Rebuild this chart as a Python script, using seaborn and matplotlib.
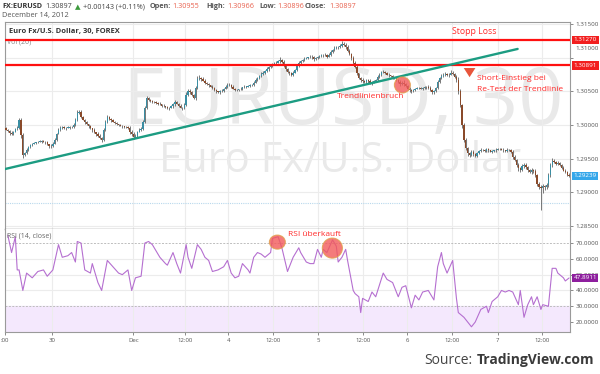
import matplotlib
matplotlib.use("Agg")
import matplotlib.pyplot as plt
import matplotlib.transforms as mtrans
from matplotlib.patches import Ellipse
import numpy as np
import pandas as pd
import seaborn as sns

# ---------------- data ----------------
close = [
 1.2993, 1.2991, 1.2988, 1.2987, 1.2990, 1.2994, 1.2996, 1.3008, 1.2985, 1.2955,
 1.2958, 1.2963, 1.2967, 1.2970, 1.2972, 1.2973, 1.2974, 1.2975, 1.2975, 1.2976,
 1.2975, 1.2974, 1.2971, 1.2968, 1.2969, 1.2972, 1.2978, 1.2987, 1.2993, 1.2996,
 1.2997, 1.2995, 1.2996, 1.2996, 1.2997, 1.2997, 1.3000, 1.3008, 1.3018, 1.3020,
 1.3012, 1.3008, 1.3004, 1.3001, 1.2998, 1.2995, 1.2992, 1.2989, 1.2987, 1.2984,
 1.2981, 1.2978, 1.2992, 1.3005, 1.3012, 1.3009, 1.3007, 1.3005, 1.3003, 1.3001,
 1.3000, 1.2999, 1.2998, 1.2997, 1.2997, 1.2996, 1.2990, 1.2986, 1.2982, 1.2984,
 1.2990, 1.2993, 1.2994, 1.3005, 1.3025, 1.3040, 1.3038, 1.3036, 1.3035, 1.3034,
 1.3033, 1.3032, 1.3031, 1.3029, 1.3028, 1.3027, 1.3025, 1.3026, 1.3028, 1.3031,
 1.3034, 1.3032, 1.3029, 1.3026, 1.3025, 1.3030, 1.3045, 1.3051, 1.3049, 1.3045,
 1.3040, 1.3055, 1.3068, 1.3070, 1.3068, 1.3066, 1.3063, 1.3061, 1.3059, 1.3057,
 1.3055, 1.3052, 1.3050, 1.3049, 1.3050, 1.3051, 1.3054, 1.3057, 1.3059, 1.3060,
 1.3057, 1.3054, 1.3052, 1.3052, 1.3053, 1.3054, 1.3056, 1.3057, 1.3057, 1.3058,
 1.3059, 1.3060, 1.3063, 1.3067, 1.3070, 1.3073, 1.3076, 1.3078, 1.3080, 1.3083,
 1.3086, 1.3088, 1.3090, 1.3092, 1.3093, 1.3095, 1.3097, 1.3094, 1.3088, 1.3083,
 1.3079, 1.3077, 1.3075, 1.3078, 1.3082, 1.3088, 1.3092, 1.3095, 1.3097, 1.3099,
 1.3100, 1.3101, 1.3102, 1.3101, 1.3099, 1.3100, 1.3102, 1.3103, 1.3104, 1.3105,
 1.3104, 1.3102, 1.3105, 1.3109, 1.3112, 1.3115, 1.3116, 1.3116, 1.3118, 1.3121,
 1.3120, 1.3116, 1.3111, 1.3106, 1.3100, 1.3093, 1.3087, 1.3077, 1.3070, 1.3067,
 1.3065, 1.3064, 1.3067, 1.3065, 1.3063, 1.3064, 1.3066, 1.3067, 1.3071, 1.3075,
 1.3079, 1.3079, 1.3078, 1.3075, 1.3074, 1.3073, 1.3071, 1.3069, 1.3067, 1.3064,
 1.3061, 1.3063, 1.3061, 1.3058, 1.3054, 1.3052, 1.3050, 1.3052, 1.3054, 1.3055,
 1.3055, 1.3054, 1.3055, 1.3056, 1.3057, 1.3055, 1.3052, 1.3049, 1.3050, 1.3055,
 1.3064, 1.3070, 1.3073, 1.3075, 1.3076, 1.3074, 1.3075, 1.3078, 1.3076, 1.3072,
 1.3067, 1.3050, 1.3030, 1.3000, 1.2978, 1.2966, 1.2958, 1.2955, 1.2960, 1.2957,
 1.2954, 1.2958, 1.2961, 1.2963, 1.2962, 1.2961, 1.2964, 1.2962, 1.2960, 1.2961,
 1.2962, 1.2963, 1.2964, 1.2964, 1.2963, 1.2962, 1.2961, 1.2963, 1.2962, 1.2960,
 1.2952, 1.2948, 1.2940, 1.2936, 1.2933, 1.2939, 1.2941, 1.2937, 1.2933, 1.2930,
 1.2933, 1.2931, 1.2925, 1.2912, 1.2908, 1.2906, 1.2909, 1.2907, 1.2910, 1.2925,
 1.2940, 1.2947, 1.2945, 1.2942, 1.2943, 1.2940, 1.2936, 1.2932, 1.2930, 1.2926,
 1.2924,
]
first_open = 1.2995
wick_up_pips = [
 2,1,2,3,1,2,2,3,2,3,1,2,1,2,1,2,1,1,2,1,
 2,1,2,1,3,2,2,1,2,3,1,2,1,2,1,2,3,2,4,2,
 3,2,1,2,1,2,1,3,1,2,2,1,3,2,3,2,1,2,1,2,
 1,2,1,1,2,1,2,2,3,2,1,2,3,2,4,3,2,1,2,1,
 2,1,2,1,2,1,2,1,2,2,3,2,1,2,1,3,4,3,2,1,
 2,3,5,4,2,3,2,1,2,1,2,1,2,1,2,2,1,2,3,2,
 1,2,1,2,1,2,1,2,1,2,2,1,2,3,2,2,3,2,2,3,
 2,3,2,2,3,2,4,2,3,2,2,1,2,3,2,2,3,2,2,3,
 2,1,2,3,2,2,1,2,2,1,3,2,2,3,2,3,2,2,3,5,
 3,2,3,2,2,3,2,2,1,2,3,2,1,2,3,2,1,2,3,3,
 2,3,2,1,2,1,2,1,2,1,3,2,4,2,1,2,1,2,1,2,
 1,2,1,2,1,2,3,1,2,2,3,2,3,2,3,2,3,4,3,2,
 3,4,3,2,3,2,1,2,3,2,1,2,1,2,1,2,1,2,1,2,
 1,2,1,2,1,2,1,2,1,2,2,3,2,3,2,3,2,3,2,2,
 3,2,3,2,3,2,3,2,3,4,3,4,3,2,3,2,2,3,2,2,
 2,
]
wick_dn_pips = [
 1,2,3,2,2,1,2,2,5,4,2,1,2,1,2,1,2,1,1,2,
 1,2,1,2,3,2,1,2,1,2,2,1,2,1,2,1,2,1,2,1,
 2,1,2,1,2,1,2,1,3,2,2,3,2,1,2,1,2,1,2,1,
 2,1,2,1,1,2,3,2,3,2,2,1,2,1,2,1,2,1,2,1,
 1,2,1,2,1,2,1,2,1,2,2,1,2,1,2,1,2,1,2,2,
 1,2,2,1,2,1,2,1,2,1,2,1,2,1,2,1,2,1,2,1,
 2,1,2,1,2,1,2,1,2,1,2,1,2,1,2,1,2,1,2,1,
 2,1,2,1,2,1,2,1,2,3,2,3,2,2,1,2,1,2,1,2,
 1,2,1,2,3,2,1,2,1,2,1,2,1,2,1,2,1,2,1,2,
 2,3,2,2,3,4,2,3,2,3,2,2,3,2,2,3,2,1,2,1,
 2,1,2,1,2,1,2,1,2,2,3,2,3,2,2,3,2,1,2,1,
 2,1,2,1,2,1,2,3,2,1,2,1,2,1,2,1,2,1,2,2,
 3,4,3,4,3,3,4,3,2,3,2,2,1,2,1,2,1,2,1,2,
 1,2,1,2,1,2,1,2,1,2,3,2,3,4,3,2,3,2,3,2,
 3,2,3,3,4,33,8,4,3,2,3,2,2,1,2,1,2,1,2,2,
 2,
]

rsi_bar = [
 1, 3, 5, 6, 7, 9, 11, 14, 17, 20, 22, 25, 28, 30, 33, 35, 37, 38, 40, 42,
 45, 46, 49, 51, 54, 57, 60, 62, 65, 67, 69, 72, 74, 76, 78, 82, 85, 86, 89, 91,
 93, 96, 97, 99, 102, 104, 106, 108, 110, 113, 116, 118, 120, 122, 124, 126, 129, 130, 132, 134,
 136, 138, 141, 142, 145, 147, 150, 153, 156, 157, 160, 162, 164, 166, 168, 169, 171, 174, 176, 177,
 179, 181, 182, 185, 186, 188, 189, 190, 193, 195, 197, 201, 203, 206, 209, 211, 213, 216, 218, 220,
 222, 225, 228, 230, 232, 233, 235, 238, 240, 241, 244, 248, 250, 253, 256, 257, 259, 262, 264, 266,
 268, 270, 273, 274, 276, 278, 280, 281, 283, 285, 286, 289, 291, 293, 294, 297, 298, 300,
]
rsi_val = [
 75, 64, 74, 53, 53, 40, 51, 48, 52, 53, 49, 53, 69, 61, 62, 64, 58, 71, 70, 53,
 51, 57, 45, 40, 59, 55, 51, 50, 53, 40, 48, 49, 70, 71, 69, 61, 57, 56, 64, 57,
 51, 69, 61, 54, 69, 66, 61, 59, 52, 53, 55, 59, 51, 48, 49, 57, 53, 51, 61, 64,
 63, 61, 64, 73, 74, 67, 52, 61, 67, 64, 58, 57, 57, 66, 61, 66, 64, 72, 68, 58,
 61, 66, 59, 40, 38, 36, 26, 35, 33, 39, 36, 51, 47, 45, 36, 42, 43, 29, 37, 34,
 39, 40, 34, 55, 64, 57, 51, 59, 35, 26, 23, 17, 20, 28, 30, 26, 33, 36, 40, 39,
 40, 39, 31, 40, 23, 31, 36, 31, 36, 28, 31, 30, 54, 54, 51, 48, 46, 47.9,
]

time_tick_pos = [-0.4, 24.6, 67.8, 95.5, 118.4, 142.4, 166.4, 190.4, 213.9, 237.9, 261.9, 285.4]
time_tick_lab = [":00", "30", "Dec", "12:00", "4", "12:00", "5", "12:00", "6", "12:00", "7", "12:00"]
price_ticks = [1.285, 1.290, 1.295, 1.300, 1.305, 1.310, 1.315]
rsi_ticks = [20, 30, 40, 50, 60, 70]

stop_loss = 1.31270
entry_level = 1.30891
last_close = 1.29239
last_rsi = 47.8911
prev_close_level = 1.28836
trend_x = [-0.5, 272.6]
trend_y = [1.29343, 1.31135]

# ---------------- frame ----------------
W, H = 600, 374
sns.set_theme(style="white")
plt.rcParams['font.family'] = ['Open Sans', 'DejaVu Sans']

fig = plt.figure(figsize=(W / 100, H / 100), dpi=100)
fig.patch.set_facecolor("white")

def fx(x):
    return x / W

def fy(y):
    return 1 - y / H

ax = fig.add_axes([fx(5), fy(229), fx(565), (229 - 22) / H])
ax2 = fig.add_axes([fx(5), fy(332), fx(565), (332 - 229) / H], sharex=ax)

n = len(close)
opens = [first_open] + close[:-1]
df = pd.DataFrame({"i": np.arange(n), "open": opens, "close": close})
df["high"] = df[["open", "close"]].max(axis=1) + np.array(wick_up_pips) * 1e-4
df["low"] = df[["open", "close"]].min(axis=1) - np.array(wick_dn_pips) * 1e-4
df["up"] = df["close"] >= df["open"]

UP_C, DN_C = "#3a8ea3", "#8a4a2a"
GRID = "#ececec"
SPINE = "#9a9a9a"

# watermark
ax.text(0.598, 0.605, "EURUSD, 30", transform=ax.transAxes, ha="center", va="center",
        fontsize=57, color="#e9e9e9", zorder=0)
ax.text(0.593, 0.33, "Euro Fx/U.S. Dollar", transform=ax.transAxes, ha="center", va="center",
        fontsize=30, color="#e9e9e9", zorder=0)

# grids
for p in price_ticks:
    ax.axhline(p, color=GRID, lw=0.8, zorder=0.5)
for t in time_tick_pos:
    ax.axvline(t, color=GRID, lw=0.8, zorder=0.5)
    ax2.axvline(t, color=GRID, lw=0.8, zorder=0.5)

# candles
cols = np.where(df["up"], UP_C, DN_C)
ax.vlines(df["i"], df["low"], df["high"], color="#555555", lw=0.55, zorder=2)
body_h = (df["close"] - df["open"]).abs().clip(lower=0.00006)
ax.bar(df["i"], body_h, bottom=df[["open", "close"]].min(axis=1), width=0.7,
       color=cols, edgecolor="none", zorder=3)

# levels
ax.axhline(stop_loss, color="#ff1010", lw=1.6, zorder=4)
ax.axhline(entry_level, color="#ff1010", lw=1.6, zorder=4)
ax.axhline(prev_close_level, color="#b8d8ec", lw=0.8, ls=(0, (1, 1)), zorder=1)

# trendline
sns.lineplot(x=trend_x, y=trend_y, ax=ax, color="#1c9c82", lw=1.7, zorder=5)

ax.set_xlim(-0.5, n - 0.5)
ax.set_ylim(1.28448, 1.31537)

# price axis
ax.yaxis.tick_right()
ax.set_yticks(price_ticks)
ax.set_yticklabels([f"{p:.5f}" for p in price_ticks])
ax.tick_params(axis="y", labelsize=4.5, labelcolor="#555555", length=2.5, width=0.6,
               color="#777777", pad=1.5, right=True)
ax.tick_params(axis="x", bottom=False, labelbottom=False)
for lab, p in zip(ax.get_yticklabels(), price_ticks):
    if abs(p - 1.31) < 1e-9:
        lab.set_transform(lab.get_transform() + mtrans.ScaledTranslation(0, 10 / 100, fig.dpi_scale_trans))
for s in ["left", "top", "right"]:
    ax.spines[s].set_color(SPINE)
    ax.spines[s].set_linewidth(0.8)
ax.spines["bottom"].set_color("#8a8a8a")
ax.spines["bottom"].set_linewidth(1.0)

# value boxes on price axis
tr = mtrans.blended_transform_factory(ax.transAxes, ax.transData)
for val, fc in [(stop_loss, "#f21f1f"), (entry_level, "#f21f1f"), (last_close, "#35a7ea")]:
    ax.text(1.006, val, f"{val:.5f}", transform=tr, ha="left", va="center", fontsize=4.5,
            color="white", bbox=dict(boxstyle="square,pad=0.3", fc=fc, ec="none"), zorder=10,
            clip_on=False)

# annotations price pane
ax.text(249.6, 1.31388, "Stopp Loss", ha="center", va="center", fontsize=6.3, color="#ff2a2a", zorder=6)
ax.text(250.7, 1.30701, "Short-Einstieg bei", ha="left", va="center",
        fontsize=6.0, color="#ff2a2a", zorder=6)
ax.text(250.7, 1.30530, "Re-Test der Trendlinie", ha="left", va="center",
        fontsize=6.0, color="#ff2a2a", zorder=6)
ax.annotate("", xy=(247, 1.30672), xytext=(247, 1.30870),
            arrowprops=dict(arrowstyle="simple,head_width=0.7,head_length=0.55,tail_width=0.35",
                            color="#e8553b", lw=0), zorder=6)
ax.text(194.2, 1.30418, "Trendlinienbruch", ha="center", va="center", fontsize=6.0,
        color="#ff2a2a", zorder=6)
ax.add_patch(Ellipse((211.2, 1.30597), 8.5, 0.0024, fc="#f25a5a", ec="#e2a04a", lw=0.8,
                     alpha=0.8, zorder=6))
ax.text(0.007, 0.955, "Euro Fx/U.S. Dollar, 30, FOREX", transform=ax.transAxes, ha="left",
        va="center", fontsize=5.4, fontweight="bold", color="#333333", zorder=6)
ax.text(0.004, 0.905, "Vol (20)", transform=ax.transAxes, ha="left", va="center",
        fontsize=5.0, color="#888888", zorder=3)

# ---------------- RSI pane ----------------
ax2.set_ylim(13.7, 78.9)
ax2.axhspan(13.7, 30, color="#f4e8fd", zorder=0)
for r in [40, 50, 60]:
    ax2.axhline(r, color=GRID, lw=0.8, zorder=0.5)
for r in [30, 70]:
    ax2.axhline(r, color="#bdbdbd", lw=0.7, ls=(0, (2, 1.5)), zorder=0.6)
sns.lineplot(x=rsi_bar, y=rsi_val, ax=ax2, color="#b56fd0", lw=0.8, zorder=3)
ax2.yaxis.tick_right()
ax2.set_yticks(rsi_ticks)
ax2.set_yticklabels([f"{r:.4f}" for r in rsi_ticks])
ax2.tick_params(axis="y", labelsize=4.5, labelcolor="#555555", length=2.5, width=0.6,
                color="#777777", pad=1.5, right=True)
ax2.set_xticks(time_tick_pos)
ax2.set_xticklabels(time_tick_lab)
ax2.tick_params(axis="x", labelsize=4.3, labelcolor="#555555", length=2.5, width=0.6,
                color="#777777", pad=1.5, bottom=True)
for s in ["left", "right", "bottom"]:
    ax2.spines[s].set_color(SPINE)
    ax2.spines[s].set_linewidth(0.8)
ax2.spines["top"].set_visible(False)
ax2.set_xlabel("")
ax2.set_ylabel("")
ax.set_xlabel("")
ax.set_ylabel("")
tr2 = mtrans.blended_transform_factory(ax2.transAxes, ax2.transData)
ax2.text(1.006, last_rsi, f"{last_rsi:.4f}", transform=tr2, ha="left", va="center", fontsize=4.5,
         color="white", bbox=dict(boxstyle="square,pad=0.2", fc="#8e1f9e", ec="none"), zorder=10,
         clip_on=False)
ax2.text(0.004, 0.93, "RSI (14, close)", transform=ax2.transAxes, ha="left", va="center",
         fontsize=5.0, color="#666666", zorder=4)
ax2.text(150.4, 75.7, "RSI überkauft", ha="left", va="center", fontsize=6.0, color="#ff2a2a", zorder=6)
ax2.add_patch(Ellipse((144.6, 70.6), 8.5, 8.9, fc="#f25a5a", ec="#e2a04a", lw=0.8, alpha=0.8, zorder=5))
ax2.add_patch(Ellipse((173.9, 66.8), 10.7, 12.7, fc="#f25a5a", ec="#e2a04a", lw=0.8, alpha=0.8, zorder=5))

# ---------------- header ----------------
hs = 5.2
y1 = fy(7)
fig.text(fx(2), y1, "FX:EURUSD", fontsize=hs, fontweight="bold", color="#333333", va="center")
fig.text(fx(45), y1, "1.30897", fontsize=hs, color="#444444", va="center")
fig.text(fx(75), y1, "\u25b2", fontsize=hs, color="#3c9a3c", va="center", family=["DejaVu Sans"])
fig.text(fx(83), y1, "+0.00143 (+0.11%)", fontsize=hs, color="#444444", va="center")
fig.text(fx(150), y1, "Open:", fontsize=hs, fontweight="bold", color="#555555", va="center")
fig.text(fx(172), y1, "1.30955", fontsize=hs, color="#e8624f", va="center")
fig.text(fx(206), y1, "High:", fontsize=hs, fontweight="bold", color="#555555", va="center")
fig.text(fx(227), y1, "1.30966", fontsize=hs, color="#e8624f", va="center")
fig.text(fx(259), y1, "Low:", fontsize=hs, fontweight="bold", color="#555555", va="center")
fig.text(fx(277), y1, "1.30896", fontsize=hs, color="#e8624f", va="center")
fig.text(fx(305), y1, "Close:", fontsize=hs, fontweight="bold", color="#555555", va="center")
fig.text(fx(329), y1, "1.30897", fontsize=hs, color="#e8624f", va="center")
fig.text(fx(2), fy(15), "December 14, 2012", fontsize=5.3, color="#555555", va="center")

# source
t_brand = fig.text(fx(594), fy(360), "TradingView.com", fontsize=10, fontweight="bold",
                   color="#3a3a3a", ha="right", va="center")
fig.canvas.draw()
bb = t_brand.get_window_extent()
fig.text((bb.x0 - 4) / W, fy(360), "Source:", fontsize=10, color="#444444", ha="right", va="center")

fig.savefig("out.png", dpi=100, facecolor="white")
